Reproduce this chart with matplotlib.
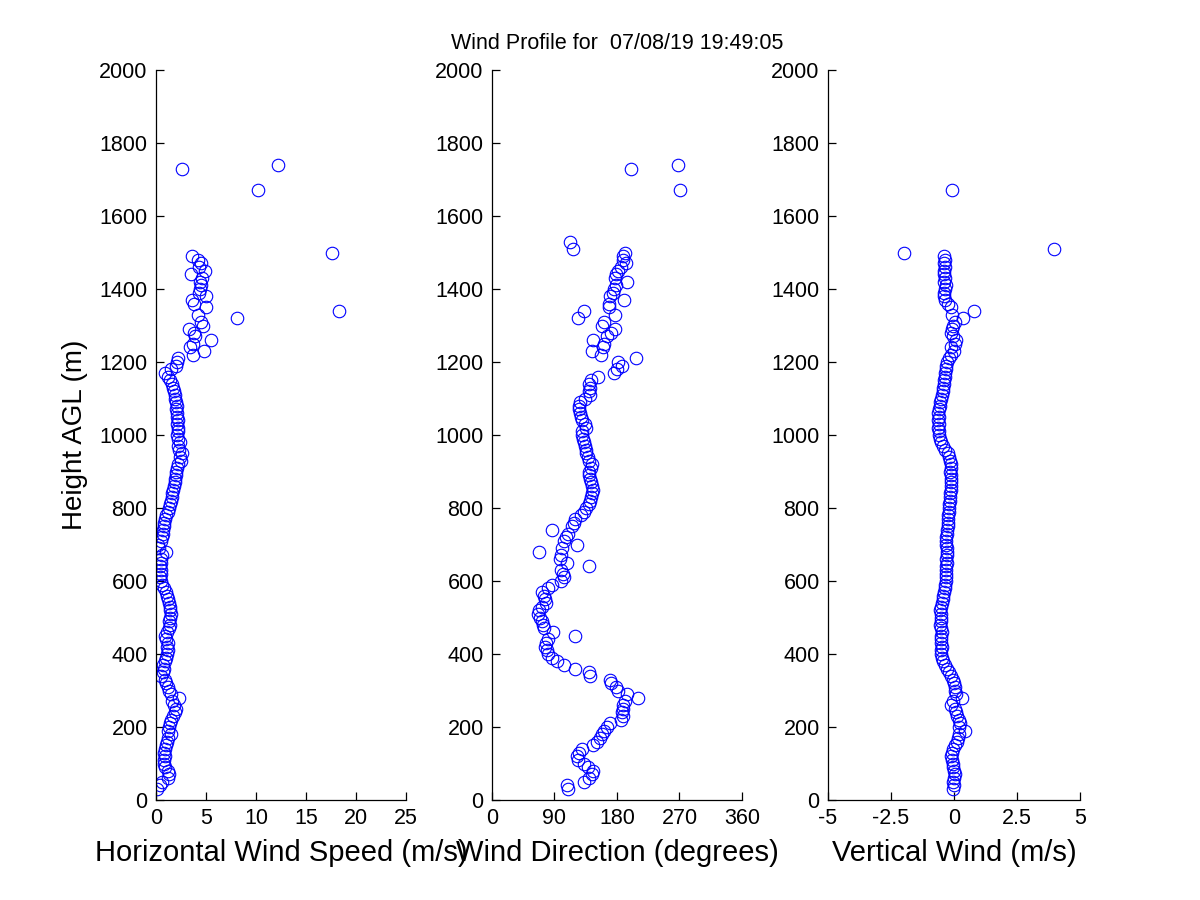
import numpy as np
import matplotlib
matplotlib.use("Agg")
import matplotlib.pyplot as plt

plt.rcParams['font.family'] = ['Liberation Sans', 'DejaVu Sans']

# Heights of the main column (m AGL), 30..1490 every 10 m, then sparse gates
heights = list(range(30, 1500, 10)) + [1500, 1510, 1530, 1670, 1730, 1740]

speed = [
    0.1, 0.4, 0.6, 1.2, 1.3, 1.2, 0.9,                       # 30-90
    0.8, 0.8, 0.9, 0.8, 0.9, 1.0, 1.1, 1.2, 1.5, 1.2,        # 100-190
    1.3, 1.4, 1.5, 1.7, 1.9, 2.0, 1.8, 1.6, 2.3, 1.5,        # 200-290
    1.3, 1.2, 1.0, 0.9, 0.5, 0.7, 0.8, 0.7, 0.9, 1.0,        # 300-390
    1.1, 1.2, 1.1, 1.2, 1.0, 0.9, 1.1, 1.3, 1.4, 1.3,        # 400-490
    1.4, 1.5, 1.4, 1.4, 1.3, 1.2, 1.1, 1.0, 0.8, 0.6,        # 500-590
    0.5, 0.4, 0.5, 0.5, 0.4, 0.5, 0.5, 0.6, 1.0, 0.3,        # 600-690
    0.2, 0.5, 0.6, 0.7, 0.7, 0.8, 0.8, 0.9, 1.0, 1.2,        # 700-790
    1.3, 1.4, 1.5, 1.6, 1.6, 1.7, 1.8, 1.9, 1.9, 2.0,        # 800-890
    2.0, 2.1, 2.2, 2.5, 2.4, 2.6, 2.3, 2.2, 2.4, 2.2,        # 900-990
    2.1, 2.2, 2.2, 2.1, 2.2, 2.1, 2.1, 2.0, 2.1, 2.0,        # 1000-1090
    1.9, 1.9, 1.8, 1.7, 1.6, 1.4, 1.2, 0.9, 1.5, 2.0,        # 1100-1190
    2.1, 2.2, 3.7, 4.8, 3.4, 3.7, 5.5, 3.9, 3.8, 3.3,        # 1200-1290
    4.7, 4.5, 8.1, 4.2, 18.3, 5.0, 3.8, 3.6, 5.0, 4.3,       # 1300-1390
    4.4, 4.5, 4.4, 4.6, 3.5, 4.9, 4.3, 4.5, 4.2, 3.6,        # 1400-1490
    17.6, np.nan, np.nan, 10.2, 2.6, 12.2,                   # 1500-1740
]

direction = [
    110, 108, 133, 140, 144, 145, 138,
    132, 124, 123, 126, 130, 146, 151, 155, 158, 162,
    166, 170, 186, 189, 187, 188, 189, 192, 210, 194,
    182, 178, 172, 170, 141, 139, 120, 104, 93, 86,
    81, 79, 76, 78, 80, 120, 88, 75, 73, 72,
    69, 66, 68, 72, 78, 77, 75, 72, 80, 87,
    100, 104, 102, 100, 139, 108, 98, 100, 67, 101,
    122, 104, 106, 110, 87, 115, 118, 120, 128, 132,
    135, 139, 141, 143, 144, 146, 144, 143, 141, 140,
    139, 142, 144, 140, 138, 136, 135, 134, 133, 131,
    130, 129, 136, 134, 130, 128, 127, 125, 126, 127,
    134, 141, 140, 141, 139, 142, 152, 175, 180, 187,
    182, 208, 157, 144, 160, 162, 145, 166, 171, 177,
    158, 162, 124, 177, 133, 168, 168, 190, 170, 174,
    176, 178, 195, 177, 179, 182, 186, 193, 188, 189,
    191, 116, 112, 271, 200, 268,
]

vertical = [
    -0.04, 0.0, -0.02, 0.0, 0.02, 0.0, -0.03,
    -0.05, -0.08, -0.1, -0.08, -0.05, 0.05, 0.12, 0.15, 0.2, 0.43,
    0.2, 0.22, 0.18, 0.12, 0.08, 0.05, -0.1, -0.05, 0.3, 0.08,
    0.05, 0.02, 0.0, -0.05, -0.12, -0.2, -0.28, -0.36, -0.42, -0.47,
    -0.5, -0.5, -0.48, -0.5, -0.52, -0.5, -0.47, -0.5, -0.55, -0.52,
    -0.5, -0.53, -0.56, -0.52, -0.47, -0.45, -0.42, -0.38, -0.36, -0.34,
    -0.33, -0.32, -0.32, -0.3, -0.3, -0.28, -0.3, -0.28, -0.27, -0.26,
    -0.3, -0.32, -0.3, -0.28, -0.27, -0.25, -0.24, -0.25, -0.23, -0.2,
    -0.2, -0.18, -0.16, -0.15, -0.14, -0.13, -0.12, -0.13, -0.12, -0.12,
    -0.14, -0.13, -0.12, -0.14, -0.2, -0.25, -0.35, -0.42, -0.5, -0.55,
    -0.58, -0.6, -0.62, -0.6, -0.62, -0.6, -0.63, -0.6, -0.57, -0.55,
    -0.5, -0.47, -0.45, -0.42, -0.4, -0.38, -0.36, -0.35, -0.33, -0.3,
    -0.28, -0.2, -0.1, 0.0, -0.1, 0.05, 0.07, -0.05, -0.1, -0.08,
    -0.05, 0.02, 0.36, -0.08, 0.78, -0.1, -0.25, -0.35, -0.38, -0.4,
    -0.35, -0.33, -0.38, -0.36, -0.4, -0.38, -0.36, -0.38, -0.37, -0.39,
    -1.97, 3.98, np.nan, -0.07, np.nan, np.nan,
]

y_ticks = list(range(0, 2001, 200))
speed_ticks = [0, 5, 10, 15, 20, 25]
dir_ticks = [0, 90, 180, 270, 360]
vert_ticks = [-5, -2.5, 0, 2.5, 5]
vert_labels = ['-5', '-2.5', '0', '2.5', '5']

title_text = 'Wind Profile for  07/08/19 19:49:05'

fig = plt.figure(figsize=(12, 9), dpi=100)
positions = [
    [0.1300, 0.1111, 0.2083, 0.8111],
    [0.4100, 0.1111, 0.2083, 0.8111],
    [0.6900, 0.1111, 0.2100, 0.8111],
]

panels = [
    (speed, (0, 25), speed_ticks, [str(t) for t in speed_ticks], 'Horizontal Wind Speed (m/s)'),
    (direction, (0, 360), dir_ticks, [str(t) for t in dir_ticks], 'Wind Direction (degrees)'),
    (vertical, (-5, 5), vert_ticks, vert_labels, 'Vertical Wind (m/s)'),
]

axes = []
for pos, (vals, xlim, xt, xtl, xlabel) in zip(positions, panels):
    ax = fig.add_axes(pos)
    ax.plot(vals, heights, linestyle='none', marker='o', markersize=9,
            markerfacecolor='none', markeredgecolor='#0000ff', markeredgewidth=0.8)
    ax.set_xlim(*xlim)
    ax.set_ylim(0, 2000)
    ax.set_xticks(xt)
    ax.set_xticklabels(xtl)
    ax.set_yticks(y_ticks)
    ax.spines['top'].set_visible(False)
    ax.spines['right'].set_visible(False)
    for s in ('left', 'bottom'):
        ax.spines[s].set_linewidth(0.9)
    ax.tick_params(direction='in', length=6, width=0.9, labelsize=15.5, pad=6)
    ax.set_xlabel(xlabel, fontsize=21, labelpad=7)
    axes.append(ax)

axes[0].set_ylabel('Height AGL (m)', fontsize=20, labelpad=8)
axes[1].set_title(title_text, fontsize=15.5, pad=15)

fig.savefig('out.png', dpi=100, facecolor='white')
